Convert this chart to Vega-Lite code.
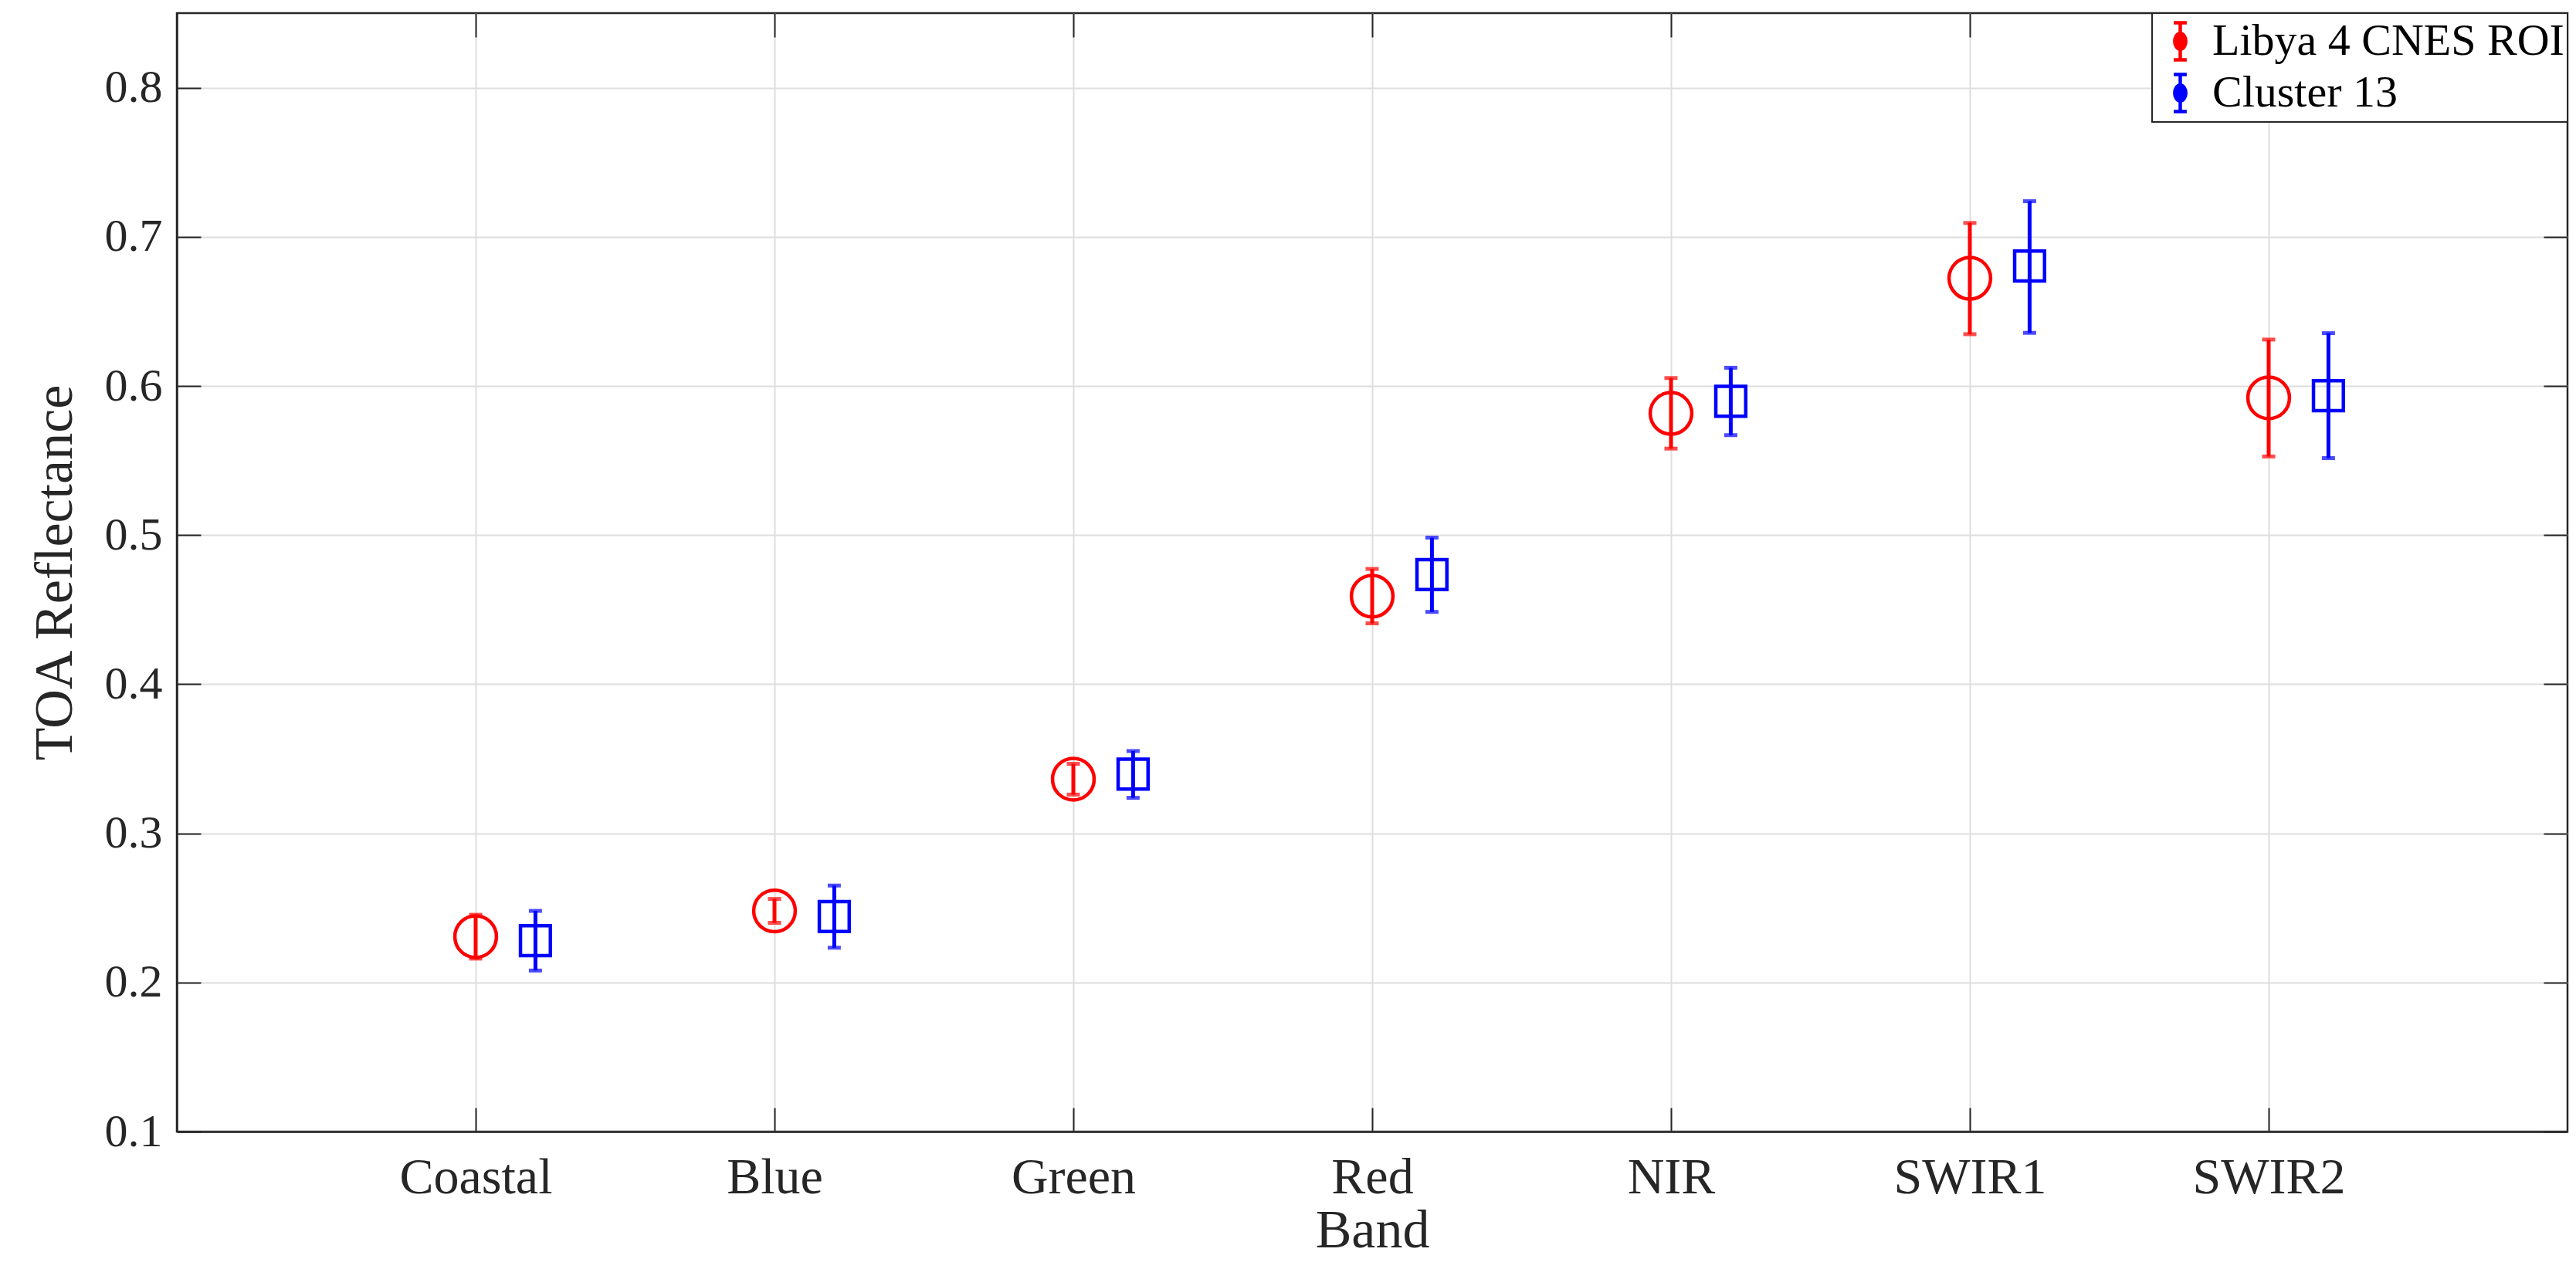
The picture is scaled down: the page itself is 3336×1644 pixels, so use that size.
{
  "$schema": "https://vega.github.io/schema/vega-lite/v6.json",
  "width": 3096,
  "height": 1449,
  "autosize": {"type": "none"},
  "padding": {"left": 229, "top": 17, "right": 11, "bottom": 178},
  "background": "white",
  "config": {
    "font": "Liberation Serif",
    "view": {"stroke": "#262626", "strokeWidth": 2.5},
    "axis": {
      "labelFont": "Liberation Serif",
      "titleFont": "Liberation Serif",
      "labelFontSize": 60,
      "titleFontSize": 70,
      "titleFontWeight": "normal",
      "labelColor": "#262626",
      "titleColor": "#262626",
      "domainColor": "#262626",
      "domainWidth": 2.5,
      "tickColor": "#262626",
      "tickWidth": 2,
      "gridColor": "#dedede",
      "gridWidth": 2,
      "labelLimit": 0
    },
    "legend": {
      "labelFont": "Liberation Serif",
      "labelFontSize": 58,
      "labelColor": "#000000",
      "strokeWidth": 2,
      "labelLimit": 0
    }
  },
  "data": {
    "values": [
      {"band": "Coastal", "series": "Libya 4 CNES ROI", "pos": 1, "value": 0.2307, "lo": 0.2160, "hi": 0.2454},
      {"band": "Blue", "series": "Libya 4 CNES ROI", "pos": 2, "value": 0.2480, "lo": 0.2400, "hi": 0.2560},
      {"band": "Green", "series": "Libya 4 CNES ROI", "pos": 3, "value": 0.3363, "lo": 0.3260, "hi": 0.3466},
      {"band": "Red", "series": "Libya 4 CNES ROI", "pos": 4, "value": 0.4590, "lo": 0.4408, "hi": 0.4773},
      {"band": "NIR", "series": "Libya 4 CNES ROI", "pos": 5, "value": 0.5816, "lo": 0.5580, "hi": 0.6053},
      {"band": "SWIR1", "series": "Libya 4 CNES ROI", "pos": 6, "value": 0.6722, "lo": 0.6347, "hi": 0.7093},
      {"band": "SWIR2", "series": "Libya 4 CNES ROI", "pos": 7, "value": 0.5920, "lo": 0.5527, "hi": 0.6311},
      {"band": "Coastal", "series": "Cluster 13", "pos": 1.2, "value": 0.2281, "lo": 0.2080, "hi": 0.2480},
      {"band": "Blue", "series": "Cluster 13", "pos": 2.2, "value": 0.2442, "lo": 0.2233, "hi": 0.2650},
      {"band": "Green", "series": "Cluster 13", "pos": 3.2, "value": 0.3397, "lo": 0.3238, "hi": 0.3552},
      {"band": "Red", "series": "Cluster 13", "pos": 4.2, "value": 0.4735, "lo": 0.4485, "hi": 0.4983},
      {"band": "NIR", "series": "Cluster 13", "pos": 5.2, "value": 0.5897, "lo": 0.5670, "hi": 0.6122},
      {"band": "SWIR1", "series": "Cluster 13", "pos": 6.2, "value": 0.6804, "lo": 0.6356, "hi": 0.7239},
      {"band": "SWIR2", "series": "Cluster 13", "pos": 7.2, "value": 0.5935, "lo": 0.5516, "hi": 0.6354}
    ]
  },
  "resolve": {"axis": {"x": "independent", "y": "independent"}},
  "layer": [
    {
      "mark": {"type": "rule", "strokeWidth": 5},
      "encoding": {
        "x": {
          "field": "pos", "type": "quantitative",
          "scale": {"domain": [0, 8], "nice": false, "zero": false},
          "axis": {
            "orient": "bottom",
            "values": [1, 2, 3, 4, 5, 6, 7],
            "labelExpr": "['', 'Coastal', 'Blue', 'Green', 'Red', 'NIR', 'SWIR1', 'SWIR2'][datum.value]",
            "labelFontSize": 66,
            "title": "Band",
            "tickSize": -31,
            "labelPadding": 58,
            "titlePadding": 2,
            "grid": true
          }
        },
        "y": {
          "field": "lo", "type": "quantitative",
          "scale": {"domain": [0.1, 0.85], "nice": false, "zero": false},
          "axis": {
            "orient": "left",
            "values": [0.1, 0.2, 0.3, 0.4, 0.5, 0.6, 0.7, 0.8],
            "format": ".1f",
            "title": "TOA Reflectance",
            "tickSize": -31,
            "labelPadding": 50,
            "titlePadding": 28,
            "grid": true
          }
        },
        "y2": {"field": "hi"},
        "color": {
          "field": "series", "type": "nominal",
          "scale": {"domain": ["Libya 4 CNES ROI", "Cluster 13"], "range": ["#ff0000", "#0000ff"]},
          "legend": {
            "title": null,
            "orient": "top-right",
            "offset": 0,
            "fillColor": "white",
            "strokeColor": "#262626",
            "padding": 4,
            "rowPadding": 0,
            "symbolType": "M0,-0.8L0,0.8M-0.28,-0.8L0.28,-0.8M-0.28,0.8L0.28,0.8M0.24,0A0.24,0.34 0 1,1 -0.24,0A0.24,0.34 0 1,1 0.24,0",
            "symbolSize": 3600,
            "symbolStrokeWidth": 4.5,
            "symbolFillColor": "transparent",
            "labelOffset": 9
          }
        }
      }
    },
    {
      "mark": {"type": "tick", "orient": "horizontal", "size": 17, "thickness": 5},
      "encoding": {
        "x": {"field": "pos", "type": "quantitative", "axis": null},
        "y": {"field": "lo", "type": "quantitative", "axis": null},
        "color": {"field": "series", "type": "nominal", "legend": null}
      }
    },
    {
      "mark": {"type": "tick", "orient": "horizontal", "size": 17, "thickness": 5},
      "encoding": {
        "x": {"field": "pos", "type": "quantitative", "axis": null},
        "y": {"field": "hi", "type": "quantitative", "axis": null},
        "color": {"field": "series", "type": "nominal", "legend": null}
      }
    },
    {
      "mark": {"type": "point", "filled": false, "strokeWidth": 4.5, "opacity": 1},
      "encoding": {
        "x": {"field": "pos", "type": "quantitative", "axis": null},
        "y": {"field": "value", "type": "quantitative", "axis": null},
        "color": {"field": "series", "type": "nominal", "legend": null},
        "shape": {
          "condition": {"test": "datum.series === 'Cluster 13'", "value": "square"},
          "value": "circle"
        },
        "size": {
          "condition": {"test": "datum.series === 'Cluster 13'", "value": 1500},
          "value": 2900
        }
      }
    },
    {
      "mark": {"type": "point", "opacity": 0},
      "encoding": {
        "x": {
          "field": "pos", "type": "quantitative",
          "axis": {
            "orient": "top", "values": [1, 2, 3, 4, 5, 6, 7], "labels": false,
            "title": null, "tickSize": -31, "grid": false, "domain": false
          }
        },
        "y": {
          "field": "value", "type": "quantitative",
          "axis": {
            "orient": "right", "values": [0.1, 0.2, 0.3, 0.4, 0.5, 0.6, 0.7, 0.8], "labels": false,
            "title": null, "tickSize": -31, "grid": false, "domain": false
          }
        }
      }
    }
  ]
}
